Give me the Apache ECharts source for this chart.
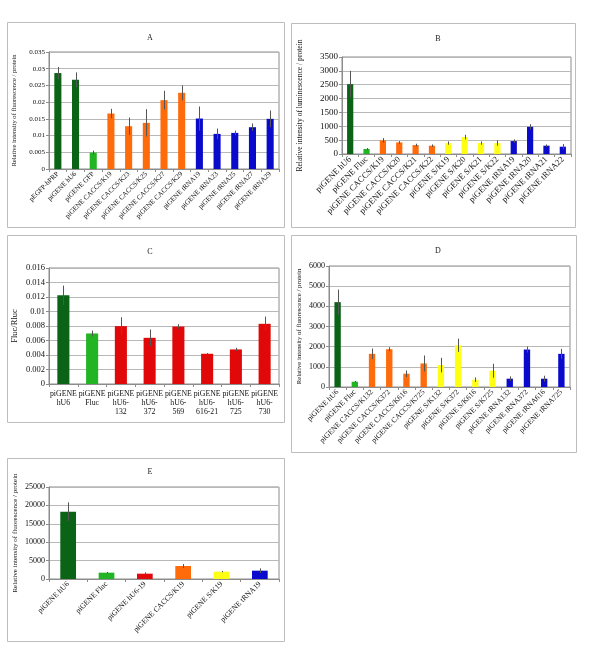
<!DOCTYPE html>
<html><head><meta charset="utf-8">
<script src="https://cdn.jsdelivr.net/npm/echarts@6/dist/echarts.min.js"></script>
<style>html,body{margin:0;padding:0;background:#fff}#c{width:600px;height:652px}</style>
</head><body><div id="c"></div>
<script>
// Panel A
const catsA = ['pEGFP-bPRP','piGENE hU6','piGENE GFP','piGENE CACCS/K19','piGENE CACCS/K23','piGENE CACCS/K25','piGENE CACCS/K27','piGENE CACCS/K29','piGENE tRNA19','piGENE tRNA23','piGENE tRNA25','piGENE tRNA27','piGENE tRNA29'];
const valsA = [0.0287,0.0267,0.0049,0.0166,0.0128,0.0138,0.0206,0.0228,0.0151,0.0105,0.0108,0.0125,0.0150];
const errsA = [0.0018,0.0022,0.0006,0.0014,0.0026,0.0041,0.0028,0.0022,0.0036,0.0016,0.0007,0.0011,0.0025];
const grpA = ['dk','dk','lt','or','or','or','or','or','bl','bl','bl','bl','bl'];
const ticksA = [0,0.005,0.01,0.015,0.02,0.025,0.03,0.035];
// Panel B
const catsB = ['piGENE hU6','piGENE Fluc','piGENE CACCS/K19','piGENE CACCS/K20','piGENE CACCS/K21','piGENE CACCS/K22','piGENE S/K19','piGENE S/K20','piGENE S/K21','piGENE S/K22','piGENE tRNA19','piGENE tRNA20','piGENE tRNA21','piGENE tRNA22'];
const valsB = [2520,180,490,418,322,300,394,609,394,394,466,980,300,263];
const errsB = [480,35,83,48,48,46,60,84,60,96,59,95,46,95];
const grpB = ['dk','lt','or','or','or','or','ye','ye','ye','ye','bl','bl','bl','bl'];
const ticksB = [0,500,1000,1500,2000,2500,3000,3500];
// Panel C
const catsC = ['piGENE\nhU6','piGENE\nFluc','piGENE\nhU6-\n132','piGENE\nhU6-\n372','piGENE\nhU6-\n569','piGENE\nhU6-\n616-21','piGENE\nhU6-\n725','piGENE\nhU6-\n730'];
const valsC = [0.01224,0.00697,0.00798,0.00637,0.00793,0.00417,0.00477,0.0083];
const errsC = [0.00133,0.0004,0.00123,0.00115,0.00032,0.0001,0.00023,0.001];
const grpC = ['dk','lt','rd','rd','rd','rd','rd','rd'];
const ticksC = [0,0.002,0.004,0.006,0.008,0.01,0.012,0.014,0.016];
// Panel D
const catsD = ['piGENE hU6','piGENE Fluc','piGENE CACCS/K132','piGENE CACCS/K372','piGENE CACCS/K616','piGENE CACCS/K725','piGENE S/K132','piGENE S/K372','piGENE S/K616','piGENE S/K725','piGENE tRNA132','piGENE tRNA372','piGENE tRNA616','piGENE tRNA725'];
const valsD = [4208,263,1644,1874,658,1167,1085,2071,362,805,411,1858,411,1644];
const errsD = [625,33,263,99,164,395,362,329,115,346,115,147,148,246];
const grpD = ['dk','lt','or','or','or','or','ye','ye','ye','ye','bl','bl','bl','bl'];
const ticksD = [0,1000,2000,3000,4000,5000,6000];
// Panel E
const catsE = ['piGENE hU6','piGENE Fluc','piGENE hU6-19','piGENE CACCS/K19','piGENE S/K19','piGENE tRNA19'];
const valsE = [18297,1721,1449,3533,1993,2264];
const errsE = [2536,180,362,543,181,635];
const grpE = ['dk','lt','rd','or','ye','bl'];
const ticksE = [0,5000,10000,15000,20000,25000];

const COLORS = {dk:'#0b6415', lt:'#22b422', or:'#ff6a0a', bl:'#0a0acc', ye:'#ffff14', rd:'#e00808'};
const FONT = 'Liberation Serif';

const chart = echarts.init(document.getElementById('c'), null, {renderer:'canvas'});

const panels = [
  {t:'A', cats:catsA, vals:valsA, errs:errsA, grp:grpA, ticks:ticksA, name:'Relative intensity of fluorescence / protein',
   grid:{left:49,top:52,width:230,height:117}, tx:145, ty:29, fs:7, cfs:7, nfs:6.6, gap:31, rot:45, bw:'40%', dec:3},
  {t:'B', cats:catsB, vals:valsB, errs:errsB, grp:grpB, ticks:ticksB, name:'Relative intensity of luminescence / protein',
   grid:{left:342,top:57,width:229,height:97}, tx:433, ty:30, fs:9, cfs:8.6, nfs:7.6, gap:38, rot:45, bw:'38%', dec:0},
  {t:'C', cats:catsC, vals:valsC, errs:errsC, grp:grpC, ticks:ticksC, name:'Fluc/Rluc',
   grid:{left:49,top:268,width:230,height:116}, tx:145, ty:243, fs:8.5, cfs:7.8, nfs:8.5, gap:30, rot:0, bw:'42%', dec:3},
  {t:'D', cats:catsD, vals:valsD, errs:errsD, grp:grpD, ticks:ticksD, name:'Relative intensity of fluorescence / protein',
   grid:{left:329,top:266,width:241,height:121}, tx:433, ty:242, fs:8, cfs:7.6, nfs:6.8, gap:26, rot:45, bw:'37%', dec:0},
  {t:'E', cats:catsE, vals:valsE, errs:errsE, grp:grpE, ticks:ticksE, name:'Relative intensity of fluorescence / protein',
   grid:{left:49,top:487,width:230,height:92}, tx:145, ty:463, fs:8, cfs:7.6, nfs:7, gap:30, rot:45, bw:'41%', dec:0}
];

const option = {animation:false, backgroundColor:'#fff', title:[], grid:[], xAxis:[], yAxis:[], series:[], graphic:[]};

const frames = [[7,22,277,205],[291,23,284,204],[7,235,277,187],[291,235,285,217],[7,458,277,183]];
frames.forEach(f => option.graphic.push({type:'rect', shape:{x:f[0]+0.5,y:f[1]+0.5,width:f[2],height:f[3]}, style:{fill:null, stroke:'#bdbdbd', lineWidth:1}, silent:true}));

panels.forEach((p,i) => {
  const tmax = p.ticks[p.ticks.length-1];
  const step = p.ticks[1]-p.ticks[0];
  option.title.push({text:p.t, left:p.tx, top:p.ty, textAlign:'center', textStyle:{fontFamily:FONT, fontSize:8, fontWeight:'normal', color:'#222'}});
  option.grid.push(Object.assign({show:true, borderColor:'#8c8c8c', borderWidth:1, backgroundColor:'#fff'}, p.grid));
  option.xAxis.push({type:'category', gridIndex:i, data:p.cats,
    axisLine:{lineStyle:{color:'#8c8c8c'}}, axisTick:{show:true, length:3, lineStyle:{color:'#8c8c8c'}},
    axisLabel:{interval:0, rotate:p.rot, fontFamily:FONT, fontSize:p.cfs, color:'#111', margin:p.rot?4:5, lineHeight:p.cfs+1.3}});
  option.yAxis.push({type:'value', gridIndex:i, min:0, max:tmax, interval:step,
    name:p.name, nameLocation:'middle', nameGap:p.gap, nameRotate:90,
    nameTextStyle:{fontFamily:FONT, fontSize:p.nfs, color:'#111'},
    axisLine:{show:true, lineStyle:{color:'#8c8c8c'}}, axisTick:{show:true, length:3, lineStyle:{color:'#8c8c8c'}},
    splitLine:{show:true, lineStyle:{color:'#b8b8b8', width:1}},
    axisLabel:{fontFamily:FONT, fontSize:p.fs, color:'#111', margin:4,
      formatter: v => p.dec ? String(+v.toFixed(p.dec+1)) : String(Math.round(v))}});
  option.series.push({type:'bar', xAxisIndex:i, yAxisIndex:i, barWidth:p.bw,
    data:p.vals.map((v,k)=>({value:v, itemStyle:{color:COLORS[p.grp[k]]}})), silent:true});
  option.series.push({type:'custom', xAxisIndex:i, yAxisIndex:i, z:5, silent:true,
    data:p.vals.map((v,k)=>[k, v, p.errs[k]]),
    renderItem:(params, api) => {
      const x = api.value(0), v = api.value(1), e = api.value(2);
      const top = api.coord([x, v+e]);
      const bot = api.coord([x, Math.max(0, v-e)]);
      return {type:'line', shape:{x1:Math.round(top[0])+0.5, y1:top[1], x2:Math.round(top[0])+0.5, y2:bot[1]}, style:{stroke:'#555', lineWidth:1}};
    }});
});

chart.setOption(option);
</script></body></html>
